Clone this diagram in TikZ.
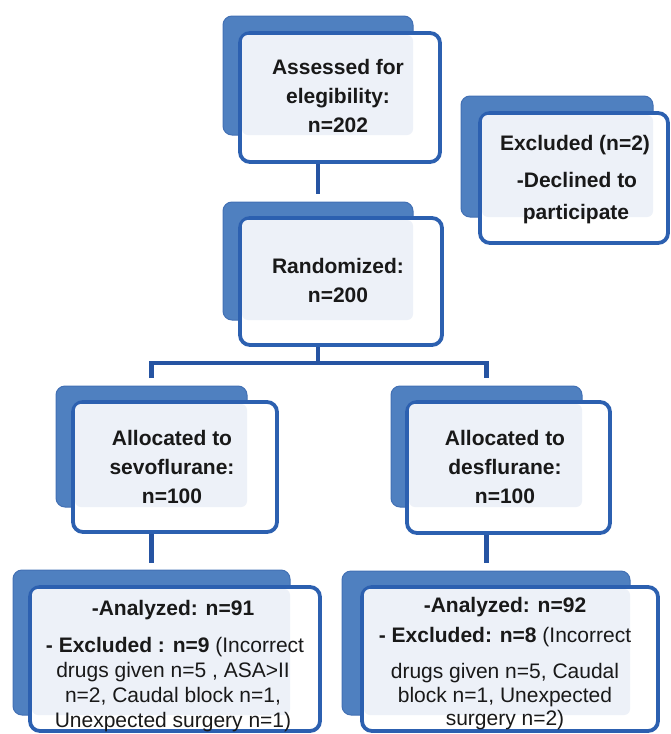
\documentclass[tikz,border=0pt]{standalone}
\usepackage{fontspec}
\setmainfont{Liberation Sans}
\usetikzlibrary{fit}
\definecolor{backblue}{RGB}{79,128,192}
\definecolor{backedge}{RGB}{66,112,180}
\definecolor{frontedge}{RGB}{44,96,176}
\definecolor{lightfill}{RGB}{237,241,248}
\definecolor{connblue}{RGB}{38,84,162}
\begin{document}
\begin{tikzpicture}[x=1pt,y=-1pt,
  backbox/.style={fill=backblue, draw=backedge, line width=1pt, rounded corners=9pt, inner sep=0pt, outer sep=0pt},
  frontbox/.style={fill=white, draw=frontedge, line width=3.8pt, rounded corners=10pt, inner sep=0pt, outer sep=0pt},
  shade/.style={fill=lightfill, rounded corners=6pt},
  conn/.style={draw=connblue, line width=4.2pt},
  bt/.style={font=\fontsize{21}{25}\selectfont\bfseries, inner sep=0pt, anchor=base, text=black!90},
  rt/.style={font=\fontsize{21}{25}\selectfont, inner sep=0pt, anchor=base, text=black!90}]
\useasboundingbox (0,0) rectangle (670,734);

% back boxes
\node[backbox, fit={(223,16) (413,135)}] (b1) {};
\node[backbox, fit={(223,202) (413,320)}] (b2) {};
\node[backbox, fit={(461,96) (653,217)}] (bx) {};
\node[backbox, fit={(56,386) (247,507)}] (b3) {};
\node[backbox, fit={(391,386) (582,507)}] (b4) {};
\node[backbox, fit={(13,570) (290,715)}] (b5) {};
\node[backbox, fit={(342,571) (630,715)}] (b6) {};

% connectors
\coordinate (c2) at (318,194);
\coordinate (split) at (318,363);
\coordinate (l3) at (151.5,363);
\coordinate (l3e) at (151.5,378);
\coordinate (l4) at (486.5,363);
\coordinate (l4e) at (486.5,378);
\coordinate (c5) at (151.5,563);
\coordinate (c6) at (486.5,563);
\draw[conn] (b1.south) -- (c2);
\draw[conn] (b2.south) -- (split);
\draw[conn] (l3e) -- (l3) -- (l4) -- (l4e);
\draw[conn] (b3.south) -- (c5);
\draw[conn] (b4.south) -- (c6);

% front boxes
\node[frontbox, fit={(240,33) (440,162)}] (f1) {};
\node[frontbox, fit={(240,218) (442,345)}] (f2) {};
\node[frontbox, fit={(480,113) (668,243)}] (fx) {};
\node[frontbox, fit={(73,402) (277,532)}] (f3) {};
\node[frontbox, fit={(407,402) (610,533)}] (f4) {};
\node[frontbox, fit={(30,587) (320,731)}] (f5) {};
\node[frontbox, fit={(362,587) (658,731)}] (f6) {};

% light inner shading
\foreach \f/\b in {f1/b1,f2/b2,fx/bx,f3/b3,f4/b4,f5/b5,f6/b6}
  \fill[shade] ([shift={(2,2)}]\f.north west) rectangle (\b.south east);

% texts
\node[bt] (t1a) at (338,74) {Assessed for};
\node[bt] (t1b) at (338,103) {elegibility:};
\node[bt] (t1c) at (338,132) {n=202};

\node[bt] (t2a) at (338,273) {Randomized:};
\node[bt] (t2b) at (338,302) {n=200};

\node[bt] (txa) at (575,150) {Excluded (n=2)};
\node[bt] (txb) at (577,187) {-Declined to};
\node[bt] (txc) at (576,219) {participate};

\node[bt] (t3a) at (172,445) {Allocated to};
\node[bt] (t3b) at (172,474) {sevoflurane:};
\node[bt] (t3c) at (172,503) {n=100};

\node[bt] (t4a) at (505,445) {Allocated to};
\node[bt] (t4b) at (505,474) {desflurane:};
\node[bt] (t4c) at (505,503) {n=100};

\node[bt] (t5a) at (173,615) {-Analyzed: n=91};
\node[rt] (t5b) at (175,652) {\textbf{- Excluded : n=9} (Incorrect};
\node[rt] (t5c) at (173,677) {drugs given n=5 , ASA>II};
\node[rt] (t5d) at (173,702) {n=2, Caudal block n=1,};
\node[rt] (t5e) at (173,727) {Unexpected surgery n=1)};

\node[bt] (t6a) at (505,612) {-Analyzed: n=92};
\node[rt] (t6b) at (505,642) {\textbf{- Excluded: n=8} (Incorrect};
\node[rt] (t6c) at (505,678) {drugs given n=5, Caudal};
\node[rt] (t6d) at (505,702) {block n=1, Unexpected};
\node[rt] (t6e) at (505,725) {surgery n=2)};
\end{tikzpicture}
\end{document}
